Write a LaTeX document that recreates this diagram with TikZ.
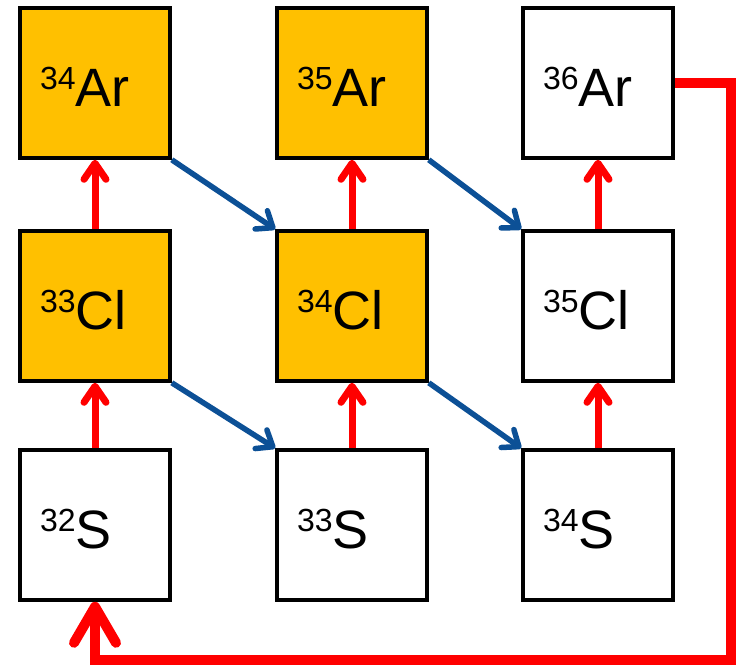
\documentclass[tikz,border=0pt]{standalone}
\usepackage{fontspec}
\setmainfont{Liberation Sans}
\usepackage{tikz}
\usetikzlibrary{calc}
\usetikzlibrary{arrows.meta}
\usetikzlibrary{backgrounds}

\definecolor{nucorange}{HTML}{FFC000}
\definecolor{decayblue}{RGB}{12,80,150}

\newcommand{\iso}[2]{\raisebox{17pt}{\fontsize{32}{32}\selectfont #1}#2}

\tikzset{
    nuc/.style={draw=black, line width=3.6pt, minimum width=150pt, minimum height=150pt,
        inner xsep=20pt, text width=110pt, align=left, text height=46pt, text depth=0pt,
        font=\fontsize{54}{60}\selectfont},
    hot/.style={nuc, fill=nucorange},
    cold/.style={nuc, fill=white},
    capture/.style={red, line width=7pt, -{Straight Barb[length=16pt,width=22pt,round]}},
    decay/.style={decayblue, line width=5.5pt, -{Straight Barb[length=14pt,width=22pt,round]}},
    cycle/.style={red, line width=10pt, miter limit=10, -{Straight Barb[length=36pt,width=42pt,round]}}
}

\begin{document}
\begin{tikzpicture}[x=1pt,y=-1pt]
        \useasboundingbox (0,0) rectangle (738,665);
        % isotopes
        \node[hot]  (ar34) at (95,83)   {\iso{34}{Ar}};
        \node[hot]  (ar35) at (352,83)  {\iso{35}{Ar}};
        \node[cold] (ar36) at (598,83)  {\iso{36}{Ar}};
        \node[hot]  (cl33) at (95,306)  {\iso{33}{Cl}};
        \node[hot]  (cl34) at (352,306) {\iso{34}{Cl}};
        \node[cold] (cl35) at (598,306) {\iso{35}{Cl}};
        \node[cold] (s32)  at (95,525)  {\iso{32}{S}};
        \node[cold] (s33)  at (352,525) {\iso{33}{S}};
        \node[cold] (s34)  at (598,525) {\iso{34}{S}};
        % proton captures
        \draw[capture] (s32.north) -- (cl33.south);
        \draw[capture] (s33.north) -- (cl34.south);
        \draw[capture] (s34.north) -- (cl35.south);
        \draw[capture] (cl33.north) -- (ar34.south);
        \draw[capture] (cl34.north) -- (ar35.south);
        \draw[capture] (cl35.north) -- (ar36.south);
        % beta decays
        \draw[decay] (ar34.south east) -- (cl34.north west);
        \draw[decay] (ar35.south east) -- (cl35.north west);
        \draw[decay] (cl33.south east) -- (s33.north west);
        \draw[decay] (cl34.south east) -- (s34.north west);
        % back to the start
        \coordinate (turn) at (731,660);
        \draw[cycle] (ar36.east) -| (turn) -| (s32.south);
    \end{tikzpicture}
\end{document}
